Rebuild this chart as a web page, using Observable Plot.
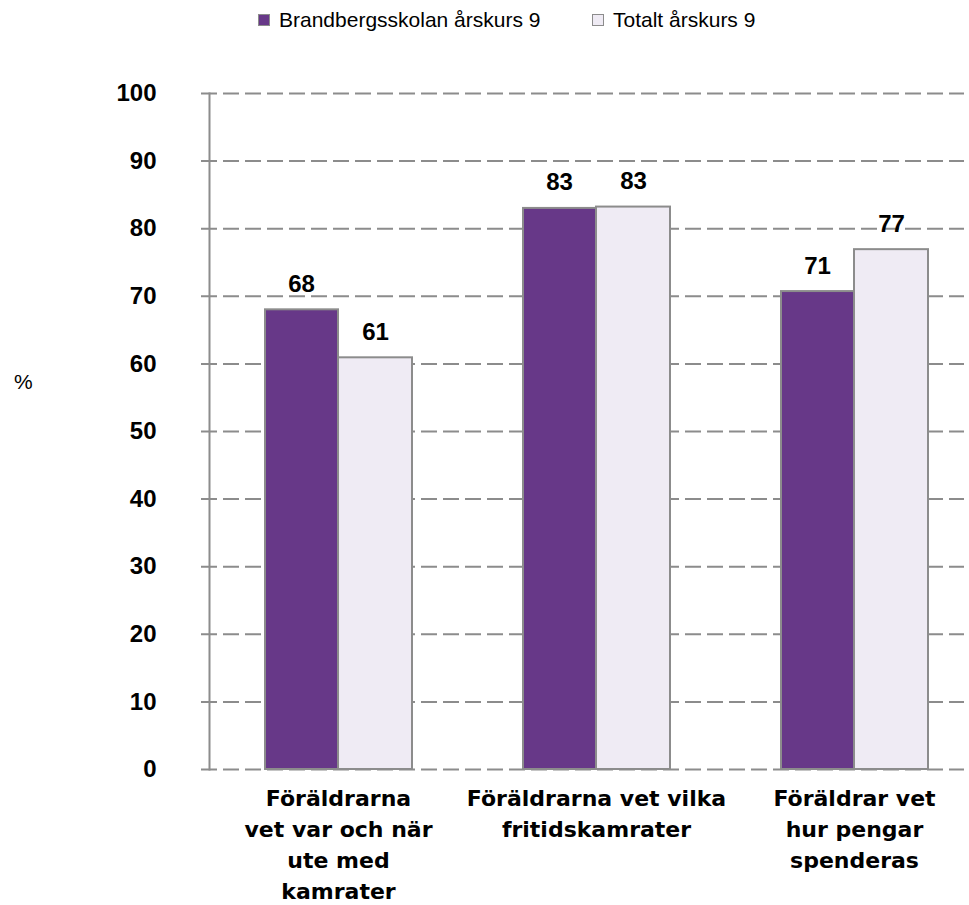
<!DOCTYPE html>
<html><head><meta charset="utf-8">
<script src="https://cdn.jsdelivr.net/npm/d3@7"></script>
<script src="https://cdn.jsdelivr.net/npm/@observablehq/plot@0.6"></script>
<style>
body{margin:0;background:#fff;}
#wrap{position:relative;width:969px;height:905px;overflow:hidden;}
#legend{position:relative;height:50px;font-family:"Liberation Sans",Arial,sans-serif;font-size:21px;color:#000;}
.item{position:absolute;top:8px;display:flex;align-items:center;white-space:nowrap;}
.sw{width:10px;height:10px;border:1px solid #8c8c8c;margin-right:9px;}
#pct{position:absolute;left:14px;top:370px;font-family:"Liberation Sans",Arial,sans-serif;font-size:21px;}
</style></head><body>
<div id="wrap"><div id="legend"></div><div id="pct">%</div><div id="chart"></div></div>
<script>
const categories = [
  "Föräldrarna vet var och när ute med kamrater",
  "Föräldrarna vet vilka fritidskamrater",
  "Föräldrar vet hur pengar spenderas"
];
const tickLabels = [
  "Föräldrarna\nvet var och när\nute med\nkamrater",
  "Föräldrarna vet vilka\nfritidskamrater",
  "Föräldrar vet\nhur pengar\nspenderas"
];
const series = ["Brandbergsskolan årskurs 9", "Totalt årskurs 9"];
const brandbergs = [68.0, 83.0, 70.7];
const totalt = [60.9, 83.2, 76.9];
const colors = ["#673888", "#EFEBF4"];
const yTicks = [0, 10, 20, 30, 40, 50, 60, 70, 80, 90, 100];

const dataB = categories.map((c, i) => ({cat: c, series: series[0], value: brandbergs[i]}));
const dataT = categories.map((c, i) => ({cat: c, series: series[1], value: totalt[i]}));

const legend = document.getElementById("legend");
const legendX = [258, 592];
series.forEach((s, i) => {
  const it = document.createElement("div");
  it.className = "item";
  it.style.left = legendX[i] + "px";
  it.innerHTML = `<span class="sw" style="background:${colors[i]}"></span><span>${s}</span>`;
  legend.appendChild(it);
});

const fmt = d3.format(".0f");
const labelStyle = {fontSize: 24, fontWeight: "bold", fill: "#000", lineAnchor: "bottom", dy: -18};
const chart = Plot.plot({
  width: 969, height: 855,
  marginLeft: 209, marginRight: 5, marginTop: 43, marginBottom: 136,
  style: {background: "white", fontFamily: "'Liberation Sans', Arial, sans-serif", overflow: "visible", color: "#000"},
  x: {domain: categories, range: [209, 983], padding: 0, label: null, axis: null},
  y: {domain: [0, 100], axis: null},
  color: {domain: series, range: colors},
  marks: [
    Plot.ruleY(yTicks, {stroke: "#8c8c8c", strokeWidth: 2, strokeDasharray: "16,6", insetLeft: -8}),
    Plot.frame({anchor: "left", stroke: "#8c8c8c", strokeWidth: 2}),
    Plot.axisY(yTicks, {tickSize: 0, tickPadding: 53, fontSize: 24, fontWeight: "bold", fill: "#000", label: null}),
    Plot.barY(dataB, {x: "cat", y: "value", fill: "series", stroke: "#8c8c8c", strokeWidth: 2, insetLeft: 56, insetRight: 129}),
    Plot.barY(dataT, {x: "cat", y: "value", fill: "series", stroke: "#8c8c8c", strokeWidth: 2, insetLeft: 129, insetRight: 55}),
    Plot.text(dataB, {x: "cat", y: "value", text: d => fmt(d.value), dx: -37, ...labelStyle}),
    Plot.text(dataT, {x: "cat", y: "value", text: d => fmt(d.value), dx: 37, ...labelStyle}),
    Plot.axisX({anchor: "bottom", tickSize: 0, tickPadding: 15, fontSize: 22, fontFamily: "'DejaVu Sans', sans-serif", fontWeight: "bold", lineHeight: 1.4, label: null, fill: "#000",
      tickFormat: d => tickLabels[categories.indexOf(d)]})
  ]
});
document.getElementById("chart").appendChild(chart);
</script>
</body></html>
